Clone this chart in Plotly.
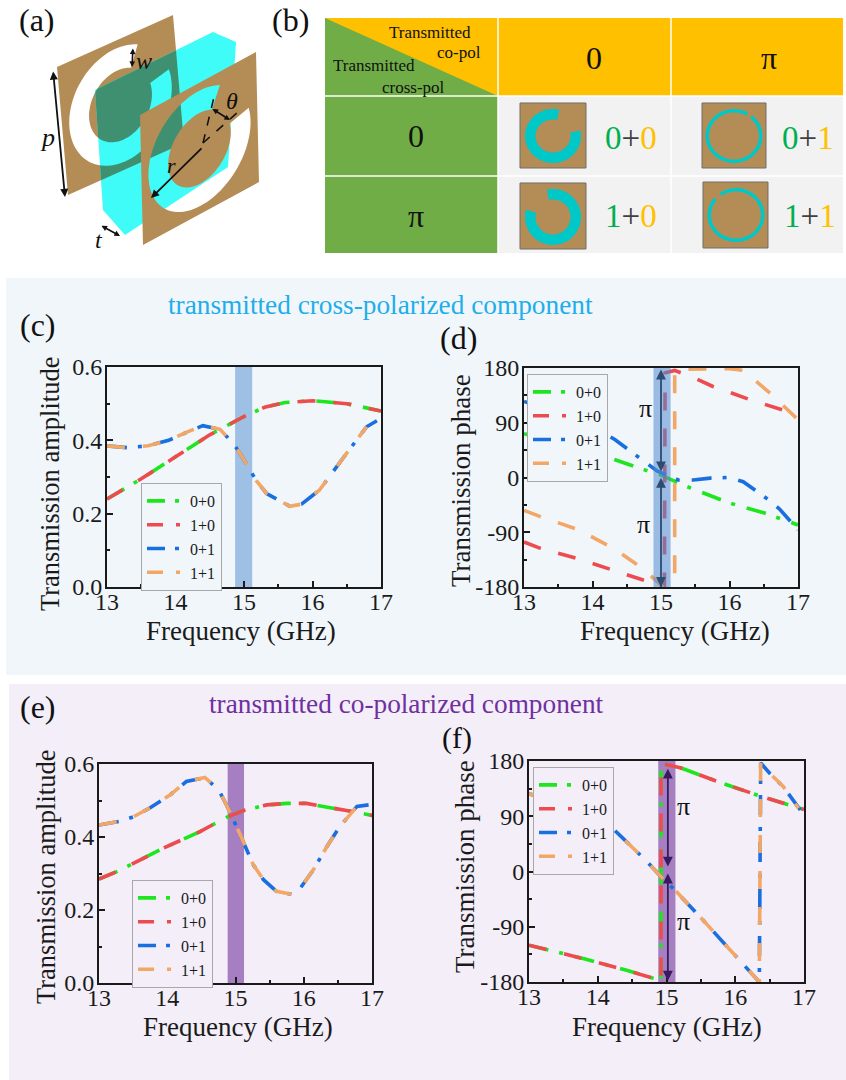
import math
import plotly.graph_objects as go

W, H = 846, 1080
SERIF = "Liberation Serif"

# ---------- data ----------
SERIES_NAMES = ["0+0", "1+0", "0+1", "1+1"]
SERIES_COLORS = ["#1ee61e", "#ee4b4f", "#1a6fe0", "#f2a766"]
CURVE_DASHES = ["20px,11px,4px,12px", "18px,18px", "20px,11px,4px,12px", "18px,18px"]
KEY_DASHES = ["18px,10px,4px,10px", "16px,13px,4px,13px", "18px,10px,4px,10px", "16px,13px,4px,13px"]

c_freq_a = [13, 13.5, 14, 14.5, 14.8, 15, 15.3, 15.6, 16, 16.5, 17]
c_amp_a = [0.24, 0.295, 0.355, 0.415, 0.445, 0.465, 0.49, 0.503, 0.508, 0.5, 0.48]
c_freq_b = [13, 13.3, 13.6, 13.9, 14.2, 14.4, 14.65, 14.84, 14.94, 15.18, 15.33, 15.67, 15.84, 16.1, 16.5, 16.79]
c_amp_b = [0.385, 0.38, 0.385, 0.4, 0.425, 0.44, 0.43, 0.392, 0.365, 0.29, 0.255, 0.22, 0.226, 0.264, 0.365, 0.437]
c_freq_b_end = [17]
c_amp_b_end = [0.46]

d_freq_00 = [13, 13.5, 14, 14.2, 14.75, 15, 15.38, 16, 16.5, 17]
d_phase_00 = [72, 58, 42, 34, 13, 4, -15, -42, -58, -78]
d_freq_10 = [13, 13.23, 13.8, 14.35, 14.75, 14.94, 15.05, 15.06, 15.2, 15.5, 15.75, 16.3, 16.85, 17]
d_phase_10 = [-106, -116, -134, -154, -168, -176, -180, 172, 176, 163, 150, 128, 108, 103]
d_freq_01 = [13, 13.5, 14, 14.33, 14.6, 14.8, 14.94, 15.13, 15.25, 15.47, 15.72, 15.98, 16.2, 16.6, 16.74, 17]
d_phase_01 = [125, 105, 85, 62, 39, 23, 11, 2, -4, -4, -1, 0, -7, -39, -53, -86]
d_freq_11 = [13, 13.23, 13.8, 14.3, 14.75, 15, 15.03, 15.2, 15.2, 15.4, 15.65, 16, 16.2, 16.6, 17]
d_phase_11 = [-54, -64, -86, -116, -151, -176, -180, -165, 175, 178, 179, 179, 176, 138, 95]

e_freq_a = [13, 13.26, 13.94, 14.48, 14.87, 15.11, 15.46, 15.75, 16.04, 16.43, 16.73, 17]
e_amp_a = [0.285, 0.305, 0.369, 0.415, 0.454, 0.472, 0.488, 0.492, 0.492, 0.48, 0.469, 0.459]
e_freq_b = [13, 13.3, 13.5, 13.75, 14.04, 14.28, 14.55, 14.75, 14.87, 14.97, 15.07, 15.26, 15.41, 15.6, 15.82, 15.95, 16.14, 16.34, 16.53, 16.78]
e_amp_b = [0.433, 0.443, 0.455, 0.48, 0.515, 0.552, 0.563, 0.53, 0.487, 0.447, 0.406, 0.324, 0.283, 0.251, 0.243, 0.26, 0.31, 0.374, 0.429, 0.484]
e_freq_b_end = [16.9, 16.95]
e_amp_b_end = [0.488, 0.488]

f_freq_a = [13, 13.3, 13.83, 14.42, 14.9, 14.92, 14.92, 15.2, 15.83, 16.36, 17]
f_phase_a = [-120, -128, -143, -161, -177, -180, 176, 169, 143, 123, 101]
f_freq_b = [13, 13.6, 14.22, 14.7, 14.9, 15.12, 15.53, 16.02, 16.31, 16.35, 16.37, 16.5, 16.7, 16.92]
f_phase_b = [127, 100, 70, 18, -6, -30, -79, -139, -173, -180, 177, 160, 138, 103]
f_freq_b_end = [17]
f_phase_b_end = [92]

X_TICKS = [13, 14, 15, 16, 17]
AMP_TICKS = [0, 0.2, 0.4, 0.6]
AMP_LABELS = ["0.0", "0.2", "0.4", "0.6"]
PHASE_TICKS = [-180, -90, 0, 90, 180]
PHASE_LABELS = ["-180", "-90", "0", "90", "180"]

PANEL_BLUE = "#f1f6fb"
PANEL_LILAC = "#f3eef8"
BROWN = "#b48c55"
TEAL = "#00c8c8"
YELLOW = "#ffc000"
TABLE_GREEN = "#70ad47"
TABLE_BODY = "#f2f2f2"
GREEN_TXT = "#00b050"
CYAN_SLAB = "#3ffcf8"
OVERLAP = "#3f9070"


# ---------- page helpers ----------
def px(x):
    return x / W


def py(y):
    return 1 - y / H


def sub(pts):
    return "M" + " L".join(f"{px(x):.5f},{py(y):.5f}" for x, y in pts) + " Z"


def shape(pts_list, fill, line=None, lw=0, rule="evenodd"):
    if pts_list and isinstance(pts_list[0], tuple):
        pts_list = [pts_list]
    return dict(type="path", xref="paper", yref="paper", layer="below",
                path=" ".join(sub(p) for p in pts_list), fillcolor=fill, fillrule=rule,
                line=dict(color=line or "rgba(0,0,0,0)", width=lw))


def rect(x0, y0, x1, y1, fill, line=None, lw=0):
    return shape([(x0, y0), (x1, y0), (x1, y1), (x0, y1)], fill, line, lw)


def arc_band(cx, cy, ro_x, ro_y, ri_x, ri_y, a0, a1, n=70):
    """annular sector, angle in degrees counter-clockwise from +x"""
    angs = [math.radians(a0 + (a1 - a0) * i / n) for i in range(n + 1)]
    outer = [(cx + ro_x * math.cos(a), cy - ro_y * math.sin(a)) for a in angs]
    inner = [(cx + ri_x * math.cos(a), cy - ri_y * math.sin(a)) for a in reversed(angs)]
    return outer + inner


def txt(x, y, s, size, color="#111111", **kw):
    return dict(x=px(x), y=py(y), xref="paper", yref="paper", text=s, showarrow=False,
                xanchor="center", yanchor="middle",
                font=dict(family=SERIF, size=size, color=color), **kw)


def arrow(x0, y0, x1, y1, width=1.8, size=0.9, side="end+start"):
    return dict(x=px(x1), y=py(y1), ax=x0 - x1, ay=y0 - y1, xref="paper", yref="paper",
                axref="pixel", ayref="pixel", text="", showarrow=True, arrowhead=2,
                arrowside=side, arrowsize=size, arrowwidth=width, arrowcolor="#111111")


def clip(subject, clipper):
    """Sutherland-Hodgman against a convex polygon"""
    area = sum(clipper[i][0] * clipper[(i + 1) % len(clipper)][1] - clipper[(i + 1) % len(clipper)][0] * clipper[i][1]
               for i in range(len(clipper)))
    sgn = 1 if area > 0 else -1
    out = subject
    for i in range(len(clipper)):
        a, b = clipper[i], clipper[(i + 1) % len(clipper)]
        inside = lambda p: sgn * ((b[0] - a[0]) * (p[1] - a[1]) - (b[1] - a[1]) * (p[0] - a[0])) >= 0
        cur, out = out, []
        for j in range(len(cur)):
            p, q = cur[j], cur[(j + 1) % len(cur)]
            if inside(p):
                out.append(p)
            if inside(p) != inside(q):
                d = (q[0] - p[0]) * (b[1] - a[1]) - (q[1] - p[1]) * (b[0] - a[0])
                t = ((a[0] - p[0]) * (b[1] - a[1]) - (a[1] - p[1]) * (b[0] - a[0])) / d
                out.append((p[0] + t * (q[0] - p[0]), p[1] + t * (q[1] - p[1])))
        if not out:
            return []
    return out


def plate_pts(o, u, v):
    return [o, (o[0] + u[0], o[1] + u[1]), (o[0] + u[0] + v[0], o[1] + u[1] + v[1]), (o[0] + v[0], o[1] + v[1])]


def plate_hole(o, u, v, ro, ri, gap0, gap1, n=80):
    def m(s, t):
        return (o[0] + s * u[0] + t * v[0], o[1] + s * u[1] + t * v[1])
    a0, a1 = gap1, gap0 + 360
    angs = [math.radians(a0 + (a1 - a0) * i / n) for i in range(n + 1)]
    outer = [m(.5 + ro * math.cos(a), .5 - ro * math.sin(a)) for a in angs]
    inner = [m(.5 + ri * math.cos(a), .5 - ri * math.sin(a)) for a in reversed(angs)]
    return outer + inner


shapes = []
annotations = []

# ---------- tinted panels behind (c)-(f) ----------
shapes.append(rect(6, 278, 846, 675, PANEL_BLUE))
shapes.append(rect(9, 684, 846, 1080, PANEL_LILAC))

# ---------- panel (a): unit cell sketch ----------
slab = [(95, 90), (213, 32), (236, 42), (228, 167), (125, 235), (103, 210)]
back = plate_pts((57, 67), (116, -52), (11, 128))
back_hole = plate_hole((57, 67), (116, -52), (11, 128), 0.44, 0.27, 14, 65)
front = plate_pts((140, 115), (116, -63), (3, 130))
front_hole = plate_hole((140, 115), (116, -63), (3, 130), 0.44, 0.27, 14, 65)
shapes.append(shape([back, back_hole], BROWN))
shapes.append(shape(slab, CYAN_SLAB))
shapes.append(shape([clip(back, slab), clip(back_hole, slab)], OVERLAP))
shapes.append(shape([front, front_hole], BROWN))
for pts in ([(203, 143), (214, 97)], [(203, 143), (238, 112)]):
    shapes.append(dict(type="line", xref="paper", yref="paper", x0=px(pts[0][0]), y0=py(pts[0][1]),
                       x1=px(pts[1][0]), y1=py(pts[1][1]), line=dict(color="#111111", width=1.5, dash="dash")))
annotations += [arrow(53, 70, 65, 197), arrow(203, 147, 151, 198, side="end"),
                arrow(100, 225, 120, 236, width=1.6, size=0.7), arrow(133, 47, 132, 67, width=1.6, size=0.7),
                arrow(211, 108, 230, 120, width=1.6, size=0.7)]
annotations += [txt(37, 20, "(a)", 32), txt(290, 20, "(b)", 32),
                txt(144, 61, "<i>w</i>", 24), txt(47, 137, "<i>p</i>", 26), txt(171, 165, "<i>r</i>", 22),
                txt(232, 101, "<i>θ</i>", 24), txt(99, 240, "<i>t</i>", 24)]

# ---------- panel (b): coding table ----------
COLS = [325, 498, 671, 843]
ROWS = [18, 96, 176, 253]
shapes.append(rect(COLS[0], ROWS[0], COLS[3], ROWS[1], YELLOW))
shapes.append(shape([(COLS[0], ROWS[0]), (COLS[1], ROWS[1]), (COLS[0], ROWS[1])], TABLE_GREEN))
shapes.append(rect(COLS[0], ROWS[1], COLS[1], ROWS[3], TABLE_GREEN))
shapes.append(rect(COLS[1], ROWS[1], COLS[3], ROWS[3], TABLE_BODY))
for xg in COLS[1:3]:
    shapes.append(dict(type="line", xref="paper", yref="paper", x0=px(xg), x1=px(xg), y0=py(ROWS[0]), y1=py(ROWS[3]),
                       line=dict(color="#ffffff", width=1.5)))
for yg in ROWS[1:3]:
    shapes.append(dict(type="line", xref="paper", yref="paper", x0=px(COLS[0]), x1=px(COLS[3]), y0=py(yg), y1=py(yg),
                       line=dict(color="#ffffff", width=1.5)))

thumbs = [
    (520, 103, 586, 168, 553, 136, 28, 27, 17.5, 16.5, 12, 77),
    (702, 103, 766, 168, 734, 136, 28.5, 27, 25, 23.5, 50, 60),
    (520, 183, 586, 249, 553, 217, 28, 28, 17.5, 17.5, 103, 165),
    (703, 182, 768, 248, 736, 215, 28.5, 27, 25, 23.5, 125, 140),
]
for x0, y0, x1, y1, cx, cy, rox, roy, rix, riy, g0, g1 in thumbs:
    shapes.append(rect(x0, y0, x1, y1, BROWN, "#6e6e6e", 1))
    shapes.append(shape(arc_band(cx, cy, rox, roy, rix, riy, g1, g0 + 360), TEAL))


def code(a, b):
    return (f'<span style="color:{GREEN_TXT}">{a}</span><span style="color:#404040">+</span>'
            f'<span style="color:{YELLOW}">{b}</span>')


annotations += [txt(430, 32, "Transmitted", 17), txt(459, 53, "co-pol", 17),
                txt(374, 65, "Transmitted", 17), txt(413, 87, "cross-pol", 17),
                txt(594, 58, "0", 32), txt(769, 58, "π", 32),
                txt(416, 136, "0", 32), txt(416, 216, "π", 32),
                txt(631, 138, code(0, 0), 33), txt(808, 138, code(0, 1), 33),
                txt(631, 216, code(1, 0), 33), txt(810, 216, code(1, 1), 33)]

# ---------- panel headings ----------
annotations += [txt(380, 305, "transmitted cross-polarized component", 27.3, "#1eaeea"),
                txt(406, 704, "transmitted co-polarized component", 27.3, "#7030a0"),
                txt(38, 325, "(c)", 32), txt(459, 338, "(d)", 32),
                txt(38, 707, "(e)", 32), txt(457, 738, "(f)", 30)]

# ---------- charts ----------
fig = go.Figure()

PANELS = [
    dict(box=(107, 367, 381, 587), kind="amp", legend=(141, 483, PANEL_BLUE), band=(14.87, 15.12), band_col="#9fc0e5", band_layer="below",
         xtitle=(241, 631), ytitle=(50, 484)),
    dict(box=(524, 368, 798, 587), kind="phase", legend=(527, 374, PANEL_BLUE), band=(14.89, 15.14), band_col="rgba(80,138,210,0.55)", band_layer="above",
         xtitle=(675, 631), ytitle=(461, 480)),
    dict(box=(99, 764, 372, 983), kind="amp", legend=(132, 880, PANEL_LILAC), band=(14.885, 15.125), band_col="#a67fc2", band_layer="below",
         xtitle=(238, 1027), ytitle=(46, 877)),
    dict(box=(529, 761, 804, 982), kind="phase", legend=(533, 767, PANEL_LILAC), band=(14.88, 15.13), band_col="#a67fc2", band_layer="below",
         xtitle=(667, 1027), ytitle=(465, 866)),
]

CURVES = [
    [(c_freq_a, c_amp_a), (c_freq_a, c_amp_a), (c_freq_b + c_freq_b_end, c_amp_b + c_amp_b_end), (c_freq_b, c_amp_b)],
    [(d_freq_00, d_phase_00), (d_freq_10, d_phase_10), (d_freq_01, d_phase_01), (d_freq_11, d_phase_11)],
    [(e_freq_a, e_amp_a), (e_freq_a, e_amp_a), (e_freq_b + e_freq_b_end, e_amp_b + e_amp_b_end), (e_freq_b, e_amp_b)],
    [(f_freq_a, f_phase_a), (f_freq_a, f_phase_a), (f_freq_b + f_freq_b_end, f_phase_b + f_phase_b_end), (f_freq_b, f_phase_b)],
]

layout_axes = {}
layout_legends = {}
for i, (p, curves) in enumerate(zip(PANELS, CURVES), start=1):
    suffix = "" if i == 1 else str(i)
    x0, y0, x1, y1 = p["box"]
    axis_font = dict(family=SERIF, size=24, color="#1a1a1a")
    common = dict(showline=True, linecolor="#1a1a1a", linewidth=2, mirror=True, showgrid=False, zeroline=False,
                  automargin=False, ticks="inside", ticklen=6, tickwidth=2, tickcolor="#1a1a1a", tickfont=axis_font)
    layout_axes["xaxis" + suffix] = dict(
        common, domain=[px(x0), px(x1)], range=[13, 17], anchor="y" + suffix, tickmode="array", tickvals=X_TICKS,
        ticklabelstandoff=-8,
        minor=dict(dtick=0.5, ticks="inside", ticklen=3, tickwidth=1.5, tickcolor="#1a1a1a"))
    if p["kind"] == "amp":
        ylabel, ysize = "Transmission amplitude", 26.5
        yextra = dict(range=[0, 0.6], tickmode="array", tickvals=AMP_TICKS, ticktext=AMP_LABELS,
                      minor=dict(dtick=0.1, ticks="inside", ticklen=3, tickwidth=1.5, tickcolor="#1a1a1a"))
    else:
        ylabel, ysize = "Transmission phase", 27
        yextra = dict(range=[-180, 180], tickmode="array", tickvals=PHASE_TICKS, ticktext=PHASE_LABELS,
                      minor=dict(dtick=45, ticks="inside", ticklen=3, tickwidth=1.5, tickcolor="#1a1a1a"))
    layout_axes["yaxis" + suffix] = dict(common, domain=[py(y1), py(y0)], anchor="x" + suffix, ticklabelstandoff=-2, **yextra)

    annotations.append(txt(*p["xtitle"], "Frequency (GHz)", 27, "#1a1a1a"))
    annotations.append(txt(*p["ytitle"], ylabel, ysize, "#1a1a1a", textangle=-90))

    shapes.append(dict(type="rect", xref="x" + suffix, yref="y" + suffix + " domain", x0=p["band"][0], x1=p["band"][1],
                       y0=0, y1=1, fillcolor=p["band_col"], line=dict(width=0), layer=p["band_layer"]))

    legend_key = "legend" + suffix
    lx, ly, lbg = p["legend"]
    layout_legends[legend_key] = dict(
        x=px(lx), y=py(ly), xanchor="left", yanchor="top", bgcolor=lbg, bordercolor="#a8a8a8", borderwidth=1,
        itemwidth=38, tracegroupgap=0, font=dict(family=SERIF, size=16, color="#1a1a1a"))

    for name, color, dash, (xs, ys) in zip(SERIES_NAMES, SERIES_COLORS, CURVE_DASHES, curves):
        fig.add_trace(go.Scatter(x=xs, y=ys, mode="lines", name=name, xaxis="x" + suffix, yaxis="y" + suffix,
                                 showlegend=False, line=dict(color=color, width=3.6, dash=dash)))
    for name, color, dash in zip(SERIES_NAMES, SERIES_COLORS, KEY_DASHES):
        fig.add_trace(go.Scatter(x=[None], y=[None], mode="lines", name=name, xaxis="x" + suffix, yaxis="y" + suffix,
                                 legend=legend_key, line=dict(color=color, width=3.6, dash=dash)))


def data_arrow(suffix, x, y_from, y_to, color):
    return dict(x=x, y=y_to, ax=x, ay=y_from, xref="x" + suffix, yref="y" + suffix, axref="x" + suffix, ayref="y" + suffix,
                text="", showarrow=True, arrowhead=2, arrowside="end+start", arrowsize=1.1, arrowwidth=1.8, arrowcolor=color)


annotations += [data_arrow("2", 15.0, 180, 10, "#2c4d70"), data_arrow("2", 15.0, 2, -180, "#2c4d70"),
                data_arrow("4", 15.02, 170, 8, "#3a1a5e"), data_arrow("4", 15.02, -1, -178, "#3a1a5e"),
                txt(645, 408, "π", 26), txt(643, 524, "π", 26), txt(683, 806, "π", 26), txt(683, 921, "π", 26)]

fig.update_layout(
    width=W, height=H, autosize=False, margin=dict(l=0, r=0, t=0, b=0, pad=0, autoexpand=False),
    paper_bgcolor="#ffffff", plot_bgcolor="rgba(0,0,0,0)", showlegend=True,
    font=dict(family=SERIF, color="#1a1a1a"),
    shapes=shapes, annotations=annotations, **layout_axes, **layout_legends)

fig.write_html("out.html", config=dict(displayModeBar=False),
               post_script="document.body.style.margin='0';document.body.style.overflow='hidden';")
